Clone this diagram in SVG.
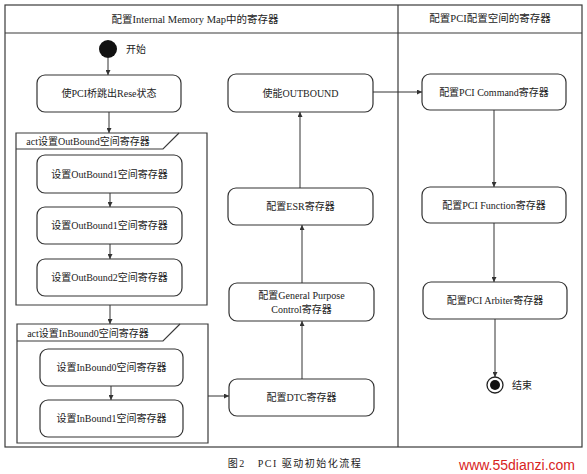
<svg xmlns="http://www.w3.org/2000/svg" width="587" height="474" viewBox="0 0 587 474">
<defs>
<style>
.frame{fill:none;stroke:#3a3a3a;stroke-width:1.2}
.box{fill:#fff;stroke:#333;stroke-width:1.2}
.t{font-family:"Liberation Serif","Noto Sans CJK SC",serif;font-size:10px;fill:#222;text-anchor:middle}
.h{font-family:"Liberation Serif","Noto Sans CJK SC",serif;font-size:10.5px;fill:#222;text-anchor:middle}
.c{stroke:#333;stroke-width:1;fill:none;marker-end:url(#ah)}
</style>
<marker id="ah" viewBox="0 0 8 8" refX="8" refY="4" markerWidth="5" markerHeight="5" orient="auto">
<path d="M0,0 L8,4 L0,8 z" fill="#333"/>
</marker>
</defs>
<rect width="587" height="474" fill="#fff"/>
<g id="swimlanes">
<rect class="frame" x="5" y="5" width="577" height="442"/>
<line class="frame" x1="5" y1="33" x2="582" y2="33"/>
<line class="frame" x1="398" y1="5" x2="398" y2="447"/>
<text class="h" x="195" y="23">配置Internal Memory Map中的寄存器</text>
<text class="h" x="490" y="22">配置PCI配置空间的寄存器</text>
</g>
<g id="start">
<circle cx="108" cy="49" r="9" fill="#111"/>
<text class="t" x="136" y="53">开始</text>
</g>
<g id="n_reset">
<rect class="box" x="37" y="75" width="144" height="37" rx="8"/>
<text class="t" x="109" y="97">使PCI桥跳出Rese状态</text>
</g>
<g id="g_outbound">
<path class="frame" d="M16,133 H207 V305 H16 Z"/>
<path class="frame" d="M16,149 H163 L179,133"/>
<text class="t" x="88" y="145">act设置OutBound空间寄存器</text>
</g>
<g id="n_ob1">
<rect class="box" x="37" y="155" width="145" height="38" rx="8"/>
<text class="t" x="109.5" y="178">设置OutBound1空间寄存器</text>
</g>
<g id="n_ob1b">
<rect class="box" x="37" y="207" width="145" height="37" rx="8"/>
<text class="t" x="109.5" y="229">设置OutBound1空间寄存器</text>
</g>
<g id="n_ob2">
<rect class="box" x="37" y="259" width="145" height="37" rx="8"/>
<text class="t" x="109.5" y="281">设置OutBound2空间寄存器</text>
</g>
<g id="g_inbound">
<path class="frame" d="M17,324 H208 V443 H17 Z"/>
<path class="frame" d="M17,341 H163 L180,324"/>
<text class="t" x="88" y="337">act设置InBound0空间寄存器</text>
</g>
<g id="n_ib0">
<rect class="box" x="40" y="349" width="143" height="37" rx="8"/>
<text class="t" x="111.5" y="371">设置InBound0空间寄存器</text>
</g>
<g id="n_ib1">
<rect class="box" x="40" y="400" width="143" height="37" rx="8"/>
<text class="t" x="111.5" y="422">设置InBound1空间寄存器</text>
</g>
<g id="n_dtc">
<rect class="box" x="229" y="379" width="145" height="37" rx="8"/>
<text class="t" x="301.5" y="401">配置DTC寄存器</text>
</g>
<g id="n_gp">
<rect class="box" x="229" y="283" width="145" height="38" rx="8"/>
<text class="t" x="301.5" y="299">配置General Purpose</text>
<text class="t" x="301.5" y="313">Control寄存器</text>
</g>
<g id="n_esr">
<rect class="box" x="228" y="188" width="145" height="37" rx="8"/>
<text class="t" x="300.5" y="210">配置ESR寄存器</text>
</g>
<g id="n_enable">
<rect class="box" x="228" y="74" width="145" height="38" rx="8"/>
<text class="t" x="300.5" y="97">使能OUTBOUND</text>
</g>
<g id="n_cmd">
<rect class="box" x="422" y="74" width="144" height="36" rx="8"/>
<text class="t" x="494" y="96">配置PCI Command寄存器</text>
</g>
<g id="n_func">
<rect class="box" x="422" y="187" width="144" height="36" rx="8"/>
<text class="t" x="494" y="209">配置PCI Function寄存器</text>
</g>
<g id="n_arb">
<rect class="box" x="423" y="282" width="144" height="37" rx="8"/>
<text class="t" x="495" y="304">配置PCI Arbiter寄存器</text>
</g>
<g id="end">
<circle cx="495" cy="385" r="8" fill="#fff" stroke="#222" stroke-width="1.3"/>
<circle cx="495" cy="385" r="5" fill="#111"/>
<text class="t" x="522" y="389">结束</text>
</g>
<g id="connectors">
<line class="c" x1="108" y1="58" x2="108" y2="75"/>
<line class="c" x1="109" y1="112" x2="109" y2="133"/>
<line class="c" x1="110" y1="193" x2="110" y2="207"/>
<line class="c" x1="110" y1="244" x2="110" y2="259"/>
<line class="c" x1="110" y1="305" x2="110" y2="324"/>
<line class="c" x1="111" y1="386" x2="111" y2="400"/>
<line class="c" x1="208" y1="396" x2="229" y2="396"/>
<line class="c" x1="302" y1="379" x2="302" y2="321"/>
<line class="c" x1="302" y1="283" x2="302" y2="225"/>
<line class="c" x1="300" y1="188" x2="300" y2="112"/>
<line class="c" x1="373" y1="92" x2="422" y2="92"/>
<line class="c" x1="494" y1="110" x2="494" y2="187"/>
<line class="c" x1="494" y1="223" x2="494" y2="282"/>
<line class="c" x1="495" y1="319" x2="495" y2="377"/>
</g>
<text class="t" x="295" y="467" xml:space="preserve" style="font-size:10px;letter-spacing:1.5px;white-space:pre">图2   PCI 驱动初始化流程</text>
<text x="517" y="470" style="font-family:'Liberation Sans',sans-serif;font-size:14px;fill:#d8231e;text-anchor:middle">www.55dianzi.com</text>
</svg>
